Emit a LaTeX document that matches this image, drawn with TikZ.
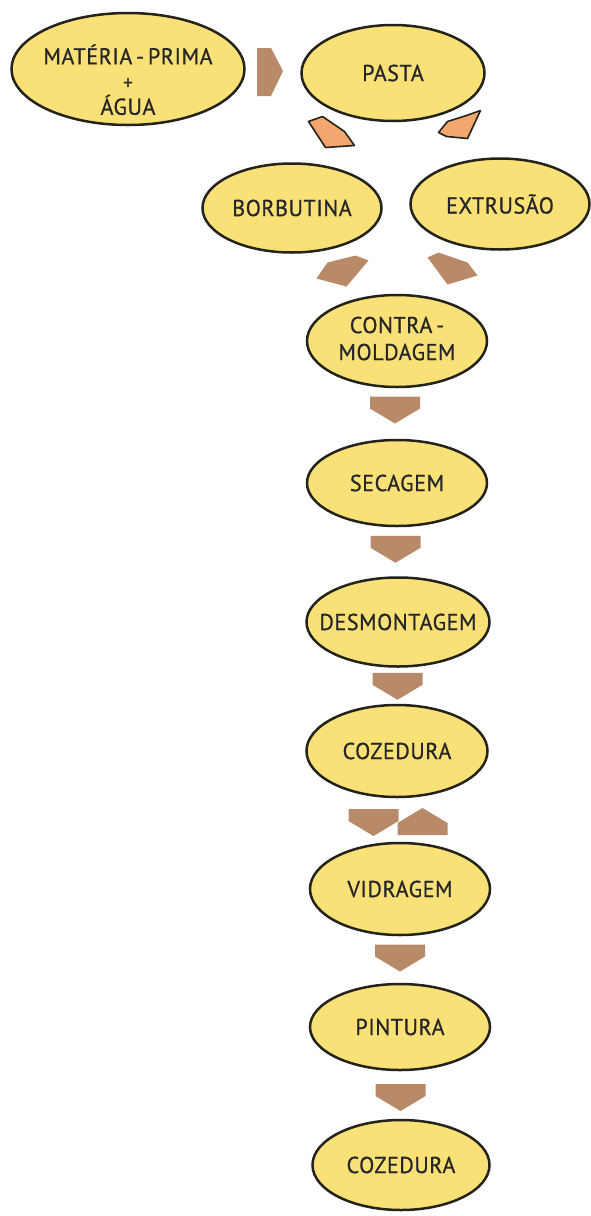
\documentclass[tikz,border=0pt]{standalone}
\usepackage{fontspec}
\setmainfont{PT Sans}[FakeStretch=0.96,LetterSpace=2.5,FakeBold=0.7]
\usetikzlibrary{calc,shapes.geometric}
\definecolor{elfill}{HTML}{F9E077}
\definecolor{elline}{HTML}{24231A}
\definecolor{brownarr}{HTML}{B98A69}
\definecolor{orangearr}{HTML}{F3A76F}
\newcommand\downblk[1]{\fill[barr] ($(#1)+(-25,-13)$) -- ++(50,0) -- ++(0,12) -- ++(-25,15) -- ++(-25,-15) -- cycle;}
\newcommand\upblk[1]{\fill[barr] ($(#1)+(-25,13)$) -- ++(50,0) -- ++(0,-12) -- ++(-25,-15) -- ++(-25,15) -- cycle;}
\newcommand\ztext[1]{\makebox[0pt]{#1}}
\begin{document}
\begin{tikzpicture}[x=1pt,y=-1pt,
  proc/.style={ellipse, draw=elline, fill=elfill, line width=2.5pt, inner sep=0pt,
    align=center, text=black!85, font=\fontsize{23}{28}\selectfont},
  barr/.style={fill=brownarr},
  oarr/.style={fill=orangearr, draw=elline, line width=1.6pt, line join=round}]
\useasboundingbox (0,0) rectangle (591,1216);

\node[proc, minimum width=233, minimum height=112] (mp) at (128,69)
  {\ztext{\raisebox{-21pt}[0pt][0pt]{\begin{tabular}{@{}c@{}}MATÉRIA\,-\,PRIMA\\[-3pt]{\fontsize{20}{20}\selectfont +}\\[-3pt]ÁGUA\end{tabular}}}};
\node[proc, minimum width=183, minimum height=96] (pasta) at (393,73) {PASTA};
\node[proc, minimum width=179, minimum height=89] (borb) at (292,208) {\ztext{BORBUTINA}};
\node[proc, minimum width=179, minimum height=91] (extr) at (500,204) {\ztext{EXTRUSÃO}};
\node[proc, minimum width=180, minimum height=92] (contra) at (397,341) {\ztext{\begin{tabular}{@{}c@{}}CONTRA\,-\\[-1pt]MOLDAGEM\end{tabular}}};
\node[proc, minimum width=180, minimum height=86] (sec) at (397,483) {SECAGEM};
\node[proc, minimum width=183, minimum height=89] (desm) at (398,622) {\ztext{DESMONTAGEM}};
\node[proc, minimum width=181, minimum height=92] (coz) at (397,751) {\ztext{COZEDURA}};
\node[proc, minimum width=180, minimum height=92] (vidr) at (400,889) {\ztext{VIDRAGEM}};
\node[proc, minimum width=180, minimum height=86] (pint) at (400,1027) {PINTURA};
\node[proc, minimum width=177, minimum height=90] (coz2) at (401,1165) {\ztext{COZEDURA}};

% matéria-prima -> pasta
\coordinate (a0) at ($(mp.east)!0.5!(pasta.west)+(-3,0)$);
\fill[barr] ($(a0)+(-13,-23)$) -- ++(14,0) -- ++(12,23) -- ++(-12,25) -- ++(-14,0) -- cycle;

% pasta -> borbutina / extrusão
\coordinate (o1) at ($(pasta)!0.5!(borb)$);
\coordinate (o2) at ($(pasta)!0.5!(extr)$);
\begin{scope}[shift={(o1)}]
  \draw[oarr] (-34,-19) -- (-20,-24) -- (2,-9) -- (12,5) -- (-17,7) -- cycle;
\end{scope}
\begin{scope}[shift={(o2)}]
  \draw[oarr] (-8,-6) -- (1,-17) -- (20,-23) -- (34,-28) -- (21,0) -- (0,-2) -- cycle;
\end{scope}

% borbutina / extrusão -> contra-moldagem
\coordinate (b1) at ($(borb)!0.5!(contra)$);
\coordinate (b2) at ($(extr)!0.5!(contra)$);
\begin{scope}[shift={(b1)}]
  \fill[barr] (-17,-12) -- (11,-19) -- (24,-14) -- (2,12) -- (-28,4) -- cycle;
\end{scope}
\begin{scope}[shift={(b2)}]
  \fill[barr] (-21,-15) -- (-10,-20) -- (19,-10) -- (29,3) -- (-1,12) -- cycle;
\end{scope}

% vertical chain
\coordinate (a3) at ($(contra.south)!0.5!(sec.north)+(-2,-4)$);
\coordinate (a4) at ($(sec.south)!0.5!(desm.north)+(-2,-3)$);
\coordinate (a5) at ($(desm.south)!0.5!(coz.north)$);
\coordinate (a6) at ($(coz.south)!0.5!(vidr.north)+(-25,2)$);
\coordinate (a7) at ($(coz.south)!0.5!(vidr.north)+(24,2)$);
\coordinate (a8) at ($(vidr.south)!0.5!(pint.north)+(0,-2)$);
\coordinate (a9) at ($(pint.south)!0.5!(coz2.north)+(0,2)$);
\downblk{a3}
\downblk{a4}
\downblk{a5}
\downblk{a6}
\upblk{a7}
\downblk{a8}
\downblk{a9}
\end{tikzpicture}
\end{document}
